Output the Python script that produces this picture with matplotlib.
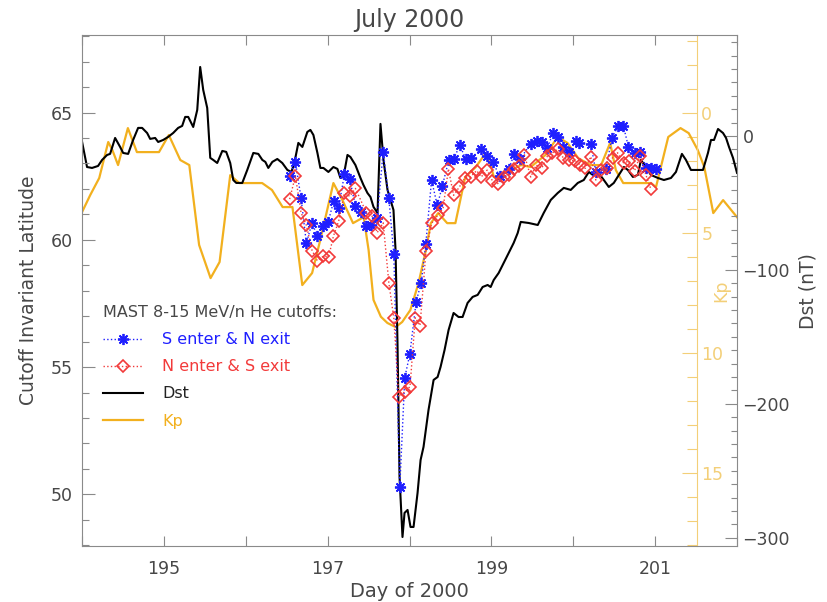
import matplotlib
matplotlib.use("Agg")
import matplotlib.pyplot as plt
from matplotlib.ticker import FixedLocator, MultipleLocator

# ---------------- data ----------------
# Hourly-ish Dst index (nT)
dst_day = [194.000, 194.061, 194.122, 194.196, 194.245, 194.306, 194.343, 194.404, 194.465, 194.502,
           194.563, 194.624, 194.685, 194.734, 194.795, 194.832, 194.893, 194.930, 194.991, 195.052,
           195.113, 195.174, 195.223, 195.260, 195.297, 195.358, 195.407, 195.443, 195.480, 195.529,
           195.566, 195.602, 195.651, 195.713, 195.761, 195.810, 195.847, 195.884, 195.957, 196.018,
           196.092, 196.153, 196.202, 196.239, 196.275, 196.324, 196.385, 196.446, 196.508, 196.557,
           196.593, 196.642, 196.691, 196.752, 196.789, 196.826, 196.875, 196.911, 196.948, 197.009,
           197.070, 197.119, 197.156, 197.193, 197.242, 197.278, 197.339, 197.401, 197.437, 197.486,
           197.523, 197.560, 197.609, 197.645, 197.682, 197.731, 197.768, 197.804, 197.829, 197.853,
           197.878, 197.914, 197.939, 197.976, 198.012, 198.049, 198.098, 198.135, 198.171, 198.232,
           198.294, 198.343, 198.379, 198.428, 198.477, 198.538, 198.599, 198.648, 198.709, 198.771,
           198.832, 198.893, 198.954, 198.991, 199.028, 199.089, 199.150, 199.211, 199.272, 199.321,
           199.358, 199.456, 199.566, 199.639, 199.725, 199.810, 199.884, 199.969, 200.055, 200.128,
           200.190, 200.239, 200.300, 200.373, 200.434, 200.495, 200.557, 200.618, 200.667, 200.728,
           200.789, 200.826, 200.887, 200.948, 201.034, 201.107, 201.193, 201.254, 201.327, 201.376,
           201.437, 201.584, 201.645, 201.682, 201.719, 201.768, 201.829, 201.866, 201.902, 201.951,
           202.000]
dst_nt = [-4.3, -23.2, -23.9, -22.4, -17.9, -14.2, -13.4, -1.5, -8.2, -12.7,
          -13.4, -3.0, 6.0, 6.0, 2.2, -2.2, -1.5, -4.5, -3.0, -0.7,
          2.2, 6.0, 7.5, 14.2, 14.2, 6.7, 19.4, 51.5, 34.4, 20.9,
          -16.4, -17.9, -20.2, -11.2, -11.9, -20.2, -32.9, -35.1, -35.1, -25.4,
          -12.7, -13.4, -17.9, -19.4, -23.9, -19.4, -17.2, -20.2, -25.4, -26.9,
          -20.2, -5.2, -8.2, 3.0, 4.5, 0.7, -12.7, -23.9, -23.9, -26.9,
          -23.2, -24.6, -31.4, -30.6, -14.2, -15.7, -21.7, -31.4, -36.6, -42.6,
          -45.6, -53.0, -57.5, 9.0, -17.9, -40.3, -47.8, -55.3, -85.1, -154.6,
          -254.7, -299.5, -281.5, -279.3, -292.0, -292.0, -266.6, -242.0, -232.2, -204.6,
          -182.2, -180.0, -172.5, -159.8, -144.9, -132.2, -135.2, -135.2, -124.7, -120.2,
          -118.7, -112.8, -111.3, -112.8, -107.6, -102.3, -94.9, -87.4, -79.9, -72.5,
          -64.2, -65.0, -66.5, -57.5, -47.8, -42.6, -38.8, -40.3, -35.1, -32.9,
          -26.9, -29.1, -26.9, -32.9, -38.1, -35.1, -29.1, -23.2, -25.4, -30.6,
          -29.1, -17.9, -23.2, -29.1, -31.4, -32.9, -31.4, -26.9, -13.4, -17.9,
          -25.4, -25.4, -12.7, -3.0, -3.0, 5.2, 2.2, -1.5, -8.2, -16.4,
          -27.6]

# Kp index
kp_day = [194.00, 194.10, 194.21, 194.32, 194.37, 194.44, 194.56, 194.67, 194.94, 195.06,
          195.20, 195.31, 195.43, 195.57, 195.68, 195.81, 195.92, 196.20, 196.32, 196.45,
          196.57, 196.69, 196.81, 196.91, 197.07, 197.18, 197.31, 197.44, 197.50, 197.56,
          197.65, 197.73, 197.83, 197.91, 198.01, 198.11, 198.20, 198.26, 198.35, 198.46,
          198.56, 198.68, 198.81, 198.93, 198.99, 199.03, 199.11, 199.24, 199.36, 199.48,
          199.66, 199.81, 199.93, 200.06, 200.21, 200.34, 200.45, 200.52, 200.61, 200.95,
          201.01, 201.16, 201.31, 201.41, 201.52, 201.60, 201.71, 201.83, 202.00]
kp_val = [4.14, 3.43, 2.72, 1.22, 1.55, 2.18, 0.64, 1.64, 1.64, 0.93,
          1.97, 2.18, 5.51, 6.89, 6.22, 2.60, 2.93, 2.93, 3.22, 3.93,
          3.93, 7.18, 6.68, 5.30, 2.93, 3.64, 4.60, 4.35, 5.72, 7.80,
          8.50, 8.76, 8.93, 8.72, 8.22, 7.10, 5.72, 4.60, 4.18, 4.60,
          4.60, 2.68, 2.26, 1.68, 2.18, 2.68, 2.60, 2.39, 2.18, 2.26,
          1.76, 1.01, 1.26, 1.89, 2.18, 2.18, 1.26, 2.39, 2.93, 2.93,
          3.10, 1.01, 0.64, 0.85, 1.55, 2.26, 4.18, 3.64, 4.35]

# MAST 8-15 MeV/n He cutoffs: S enter & N exit
s_day = [196.536, 196.606, 196.675, 196.740, 196.810, 196.871, 196.944, 197.006, 197.074, 197.135,
         197.205, 197.270, 197.339, 197.404, 197.474, 197.535, 197.605, 197.678, 197.747, 197.808,
         197.881, 197.942, 198.004, 198.080, 198.143, 198.199, 198.269, 198.339, 198.400, 198.481,
         198.542, 198.612, 198.685, 198.746, 198.877, 198.942, 199.021, 199.101, 199.215, 199.276,
         199.346, 199.480, 199.554, 199.621, 199.684, 199.749, 199.814, 199.878, 199.949, 200.031,
         200.071, 200.214, 200.275, 200.398, 200.471, 200.550, 200.612, 200.673, 200.752, 200.820,
         200.893, 200.948, 201.009]
s_lat = [62.51, 63.07, 61.64, 59.87, 60.68, 60.15, 60.55, 60.70, 61.53, 61.27,
         62.59, 62.38, 61.33, 61.11, 60.53, 60.59, 60.85, 63.47, 61.64, 59.45,
         50.29, 54.59, 55.51, 57.56, 58.32, 59.84, 62.35, 61.35, 62.11, 63.15,
         63.17, 63.73, 63.19, 63.21, 63.56, 63.30, 63.04, 62.49, 62.79, 63.36,
         63.16, 63.77, 63.87, 63.86, 63.60, 64.19, 64.03, 63.63, 63.44, 63.89,
         63.80, 63.77, 62.68, 62.79, 63.99, 64.48, 64.48, 63.66, 63.40, 63.47,
         62.81, 62.81, 62.79]

# MAST 8-15 MeV/n He cutoffs: N enter & S exit
n_day = [196.536, 196.606, 196.675, 196.740, 196.810, 196.873, 196.944, 197.013, 197.070, 197.135,
         197.205, 197.270, 197.339, 197.474, 197.541, 197.605, 197.678, 197.747, 197.808, 197.869,
         197.939, 198.006, 198.070, 198.128, 198.202, 198.269, 198.343, 198.410, 198.475, 198.538,
         198.609, 198.679, 198.746, 198.820, 198.875, 198.948, 199.012, 199.076, 199.154, 199.215,
         199.281, 199.343, 199.403, 199.480, 199.547, 199.615, 199.684, 199.746, 199.810, 199.880,
         199.945, 200.015, 200.088, 200.147, 200.214, 200.275, 200.343, 200.410, 200.480, 200.541,
         200.614, 200.683, 200.749, 200.817, 200.887, 200.948]
n_lat = [61.60, 62.51, 61.07, 60.57, 59.58, 59.18, 59.35, 59.34, 60.14, 60.74,
         61.84, 61.71, 62.02, 61.06, 60.94, 60.28, 60.67, 58.32, 56.92, 53.84,
         54.02, 54.23, 56.94, 56.63, 59.58, 60.65, 60.96, 61.24, 62.79, 61.75,
         62.08, 62.44, 62.48, 62.72, 62.47, 62.74, 62.32, 62.21, 62.46, 62.56,
         62.77, 62.92, 63.34, 62.47, 62.94, 62.81, 63.29, 63.42, 63.56, 63.21,
         63.14, 63.11, 62.94, 62.81, 63.27, 62.35, 62.75, 62.81, 63.23, 63.42,
         63.03, 63.09, 62.72, 63.31, 62.55, 61.99]

day_ticks = [194, 195, 196, 197, 198, 199, 200, 201, 202]
day_labels = ["", "195", "", "197", "", "199", "", "201", ""]
lat_ticks = [50, 55, 60, 65]
dst_ticks = [0, -100, -200, -300]
kp_ticks = [0, 5, 10, 15]

legend_header = "MAST 8-15 MeV/n He cutoffs:"
legend_labels = ["S enter & N exit", "N enter & S exit", "Dst", "Kp"]

# ---------------- style ----------------
plt.rcParams["font.family"] = ["DejaVu Sans"]
TXT = "#474747"
FRAME = "#8a8a8a"
BLUE = "#1f1fff"
RED = "#f23a3a"
KP_LINE = "#f2b01e"
KP_AXIS = "#f3cf78"

fig = plt.figure(figsize=(8.27, 6.02), dpi=100)
ax = fig.add_axes([0.0992, 0.0935, 0.7920, 0.8484])
ax_dst = ax.twinx()
ax_kp = ax.twinx()

ax.set_zorder(3)
ax.patch.set_visible(False)
ax_dst.set_zorder(2)
ax_kp.set_zorder(1)

# Kp (inverted scale on its own spine)
kp_line, = ax_kp.plot(kp_day, kp_val, color=KP_LINE, lw=1.6)
ax_kp.set_ylim(18.04, -3.24)
ax_kp.spines["right"].set_position(("axes", 615 / 655))
ax_kp.spines["right"].set_color(KP_AXIS)
for s in ("left", "top", "bottom"):
    ax_kp.spines[s].set_visible(False)
ax_kp.yaxis.set_major_locator(FixedLocator(kp_ticks))
ax_kp.yaxis.set_minor_locator(MultipleLocator(1))
ax_kp.tick_params(axis="y", which="major", direction="in", length=10.5, width=0.8,
                  color=KP_AXIS, labelcolor=KP_AXIS, labelsize=12.5, pad=3)
ax_kp.tick_params(axis="y", which="minor", direction="in", length=7, width=0.8, color=KP_AXIS)
ax_kp.set_ylabel("Kp", color=KP_AXIS, fontsize=12.5, labelpad=-2)
ax_kp.yaxis.set_label_coords(0.962, 0.5)

# Dst
dst_line, = ax_dst.plot(dst_day, dst_nt, color="black", lw=1.5)
ax_dst.set_ylim(-306, 75.4)
for s in ("left", "top", "bottom"):
    ax_dst.spines[s].set_visible(False)
ax_dst.spines["right"].set_color(FRAME)
ax_dst.yaxis.set_major_locator(FixedLocator(dst_ticks))
ax_dst.yaxis.set_minor_locator(MultipleLocator(10))
ax_dst.tick_params(axis="y", which="major", direction="in", length=8.5, width=0.8,
                   color=FRAME, labelcolor=TXT, labelsize=12.5, pad=4)
ax_dst.tick_params(axis="y", which="minor", direction="in", length=4.3, width=0.8, color=FRAME)

# Cutoff latitudes
s_line, = ax.plot(s_day, s_lat, color=BLUE, ls=":", lw=1.0, marker=(8, 2, 0),
                  ms=8, mew=1.3, mec=BLUE)
n_line, = ax.plot(n_day, n_lat, color=RED, ls=":", lw=1.0, marker="D",
                  ms=6, mew=1.2, mec=RED, mfc="none")

ax.set_xlim(194, 202)
ax.set_ylim(47.98, 68.05)
ax.spines["right"].set_visible(False)
for s in ("left", "top", "bottom"):
    ax.spines[s].set_color(FRAME)
ax.set_xticks(day_ticks)
ax.set_xticklabels(day_labels)
ax.tick_params(axis="x", which="major", direction="in", top=True, length=7, width=0.8,
               color=FRAME, labelcolor=TXT, labelsize=12.5, pad=10)
ax.yaxis.set_major_locator(FixedLocator(lat_ticks))
ax.yaxis.set_minor_locator(MultipleLocator(1))
ax.tick_params(axis="y", which="major", direction="in", right=False, length=9.5, width=0.8,
               color=FRAME, labelcolor=TXT, labelsize=12.5, pad=6.5)
ax.tick_params(axis="y", which="minor", direction="in", right=False, length=5, width=0.8,
               color=FRAME)

fig.text(0.4946, 1 - 27 / 602, "July 2000", ha="center", va="baseline", fontsize=17, color=TXT)
fig.text(0.4946, 1 - 597 / 602, "Day of 2000", ha="center", va="baseline", fontsize=14, color=TXT)
fig.text(29 / 827, 0.518, "Cutoff Invariant Latitude", rotation=90, ha="center", va="center",
         fontsize=13.5, color=TXT)
fig.text(808 / 827, 0.516, "Dst (nT)", rotation=90, ha="center", va="center",
         fontsize=13.5, color=TXT)

leg = ax.legend([s_line, n_line, dst_line, kp_line], legend_labels, title=legend_header,
                loc="upper left", bbox_to_anchor=(103 / 827, 1 - 305 / 602),
                bbox_transform=fig.transFigure, frameon=False, alignment="left",
                fontsize=11.5, title_fontsize=11.5, handlelength=2.5, handletextpad=1.2,
                labelspacing=0.76, borderpad=0, borderaxespad=0)
leg.get_title().set_color(TXT)
for txt, col in zip(leg.get_texts(), [BLUE, RED, "#222222", KP_LINE]):
    txt.set_color(col)

fig.savefig("out.png", dpi=100)
